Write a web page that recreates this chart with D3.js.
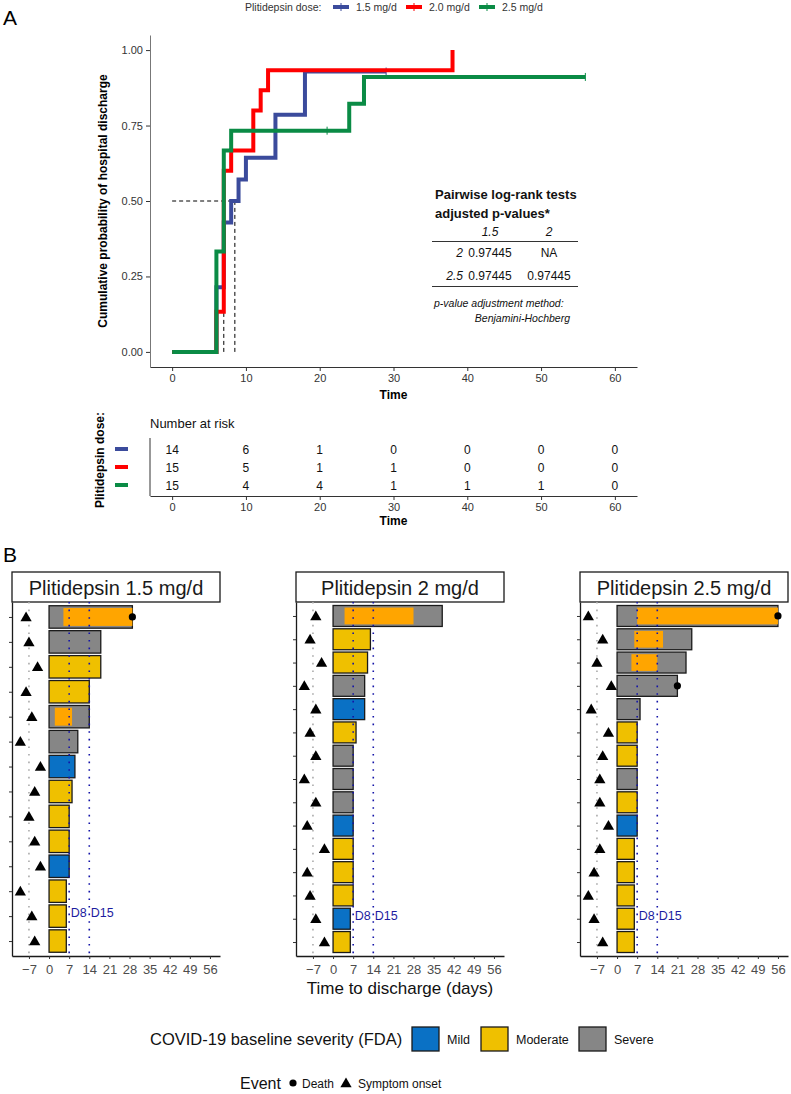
<!DOCTYPE html>
<html><head><meta charset="utf-8">
<script src="https://cdn.jsdelivr.net/npm/d3@7"></script>
<style>body{margin:0;background:#fff}svg{display:block;font-family:"Liberation Sans",Arial,sans-serif}</style>
</head><body><svg id="c" width="791" height="1094"></svg>
<script>
// ---------- DATA ----------
const doseLabels = ["1.5 mg/d", "2.0 mg/d", "2.5 mg/d"];
const doseColors = ["#3B4B9C", "#FF0000", "#0A8B45"];
// Kaplan-Meier cumulative discharge (step points)
const kmTime15 = [0, 6, 7, 8, 9, 10, 14, 18, 29];
const kmCum15  = [0, 0.214, 0.429, 0.5, 0.571, 0.643, 0.786, 0.929, 0.929];
const kmTime20 = [0, 6, 7, 8, 11, 12, 13, 38];
const kmCum20  = [0, 0.133, 0.6, 0.667, 0.8, 0.867, 0.933, 1.0];
const kmTime25 = [0, 6, 7, 8, 24, 26, 56];
const kmCum25  = [0, 0.333, 0.667, 0.733, 0.822, 0.911, 0.911];
const censorTime15 = [29];
const censorTime20 = [];
const censorTime25 = [21, 56];
const medianTimes = [7, 8.5];
const kmTicksX = [0, 10, 20, 30, 40, 50, 60];
const kmTicksY = [0, 0.25, 0.5, 0.75, 1.0];
// risk table
const riskTimes = [0, 10, 20, 30, 40, 50, 60];
const risk15 = [14, 6, 1, 0, 0, 0, 0];
const risk20 = [15, 5, 1, 1, 0, 0, 0];
const risk25 = [15, 4, 4, 1, 1, 1, 0];
// pairwise table
const pwCols = ["1.5", "2"];
const pwRows = ["2", "2.5"];
const pwVals = [["0.97445", "NA"], ["0.97445", "0.97445"]];
// Panel B swimmer data
const facetTitles = ["Plitidepsin 1.5 mg/d", "Plitidepsin 2 mg/d", "Plitidepsin 2.5 mg/d"];
const end15 = [29, 18, 18, 14, 14, 10, 9, 8, 7, 7, 7, 6, 6, 6];
const sev15 = ["Severe","Severe","Moderate","Moderate","Severe","Severe","Mild","Moderate","Moderate","Moderate","Mild","Moderate","Moderate","Moderate"];
const onset15 = [-8, -7, -4, -8, -6, -10, -3, -5, -7, -5, -3, -10, -6, -5];
const oStart15 = [5, null, null, null, 2, null, null, null, null, null, null, null, null, null];
const oEnd15   = [29, null, null, null, 8, null, null, null, null, null, null, null, null, null];
const death15  = [true, false, false, false, false, false, false, false, false, false, false, false, false, false];

const end20 = [38, 13, 12, 11, 11, 8, 7, 7, 7, 7, 7, 7, 7, 6, 6];
const sev20 = ["Severe","Moderate","Moderate","Severe","Mild","Moderate","Severe","Severe","Severe","Mild","Moderate","Moderate","Moderate","Mild","Moderate"];
const onset20 = [-6, -8, -4, -10, -6, -8, -6, -10, -6, -9, -3, -9, -8, -6, -3];
const oStart20 = [4, null, null, null, null, null, null, null, null, null, null, null, null, null, null];
const oEnd20   = [28, null, null, null, null, null, null, null, null, null, null, null, null, null, null];
const death20  = [false, false, false, false, false, false, false, false, false, false, false, false, false, false, false];

const end25 = [56, 26, 24, 21, 8, 7, 7, 7, 7, 7, 6, 6, 6, 6, 6];
const sev25 = ["Severe","Severe","Severe","Severe","Severe","Moderate","Moderate","Severe","Moderate","Mild","Moderate","Moderate","Moderate","Moderate","Moderate"];
const onset25 = [-10, -5, -7, -2, -9, -3, -5, -6, -6, -3, -6, -8, -10, -8, -5];
const oStart25 = [7, 6, 5, null, null, null, null, null, null, null, null, null, null, null, null];
const oEnd25   = [56, 16, 14, null, null, null, null, null, null, null, null, null, null, null, null];
const death25  = [true, false, false, true, false, false, false, false, false, false, false, false, false, false, false];

const sevLevels = ["Mild", "Moderate", "Severe"];
const sevColors = ["#0A71C5", "#EFC000", "#868686"];
const orangeColor = "#FFA500";
const swimTicks = [-7, 0, 7, 14, 21, 28, 35, 42, 49, 56];
const refLines = [7, 14];
const refLabels = ["D8", "D15"];
const eventLabels = ["Death", "Symptom onset"];

// ---------- DRAW ----------
const svg = d3.select("#c");
svg.append("rect").attr("width", 791).attr("height", 1094).attr("fill", "#fff");
const txtCol = "#333";

// Panel labels
svg.append("text").attr("x", 3).attr("y", 25).attr("font-size", 21).text("A");
svg.append("text").attr("x", 3).attr("y", 562).attr("font-size", 21).text("B");

// top legend
const lg = svg.append("g").attr("font-size", 10.5).attr("fill", txtCol);
lg.append("text").attr("x", 245).attr("y", 10.5).text("Plitidepsin dose:");
const lgX = [333, 406, 479];
doseLabels.forEach((d, i) => {
  lg.append("line").attr("x1", lgX[i]).attr("x2", lgX[i] + 16).attr("y1", 7).attr("y2", 7)
    .attr("stroke", doseColors[i]).attr("stroke-width", 4);
  lg.append("line").attr("x1", lgX[i] + 8).attr("x2", lgX[i] + 8).attr("y1", 3).attr("y2", 11)
    .attr("stroke", doseColors[i]).attr("stroke-width", 1);
  lg.append("text").attr("x", lgX[i] + 23).attr("y", 10.5).text(d);
});

// KM plot
const x = d3.scaleLinear().domain([-3, 63]).range([150, 637]);
const y = d3.scaleLinear().domain([-0.05, 1.05]).range([367, 35]);

const gx = svg.append("g").attr("transform", "translate(0,367)")
  .call(d3.axisBottom(x).tickValues(kmTicksX).tickSize(4).tickSizeOuter(0));
const gy = svg.append("g").attr("transform", "translate(150,0)")
  .call(d3.axisLeft(y).tickValues(kmTicksY).tickFormat(d3.format(".2f")).tickSize(4).tickSizeOuter(0));
[gx, gy].forEach(g => {
  g.selectAll("text").attr("font-size", 11).attr("fill", txtCol).attr("font-family", "Liberation Sans, Arial, sans-serif");
  g.selectAll("line").attr("stroke", "#333");
  g.select(".domain").attr("stroke", "#333");
});
gy.select(".domain").attr("stroke", "#777");
svg.append("text").attr("x", x(30)).attr("y", 399).attr("text-anchor", "middle")
  .attr("font-size", 12).attr("font-weight", "bold").text("Time");
svg.append("text").attr("transform", `translate(107,${y(0.5)}) rotate(-90)`).attr("text-anchor", "middle")
  .attr("font-size", 12).attr("font-weight", "bold").text("Cumulative probability of hospital discharge");

// median dashed lines
const dash = svg.append("g").attr("stroke", "#000").attr("stroke-width", 1).attr("stroke-dasharray", "4,3");
dash.append("line").attr("x1", x(0)).attr("x2", x(medianTimes[1])).attr("y1", y(0.5)).attr("y2", y(0.5));
medianTimes.forEach(t => dash.append("line").attr("x1", x(t)).attr("x2", x(t)).attr("y1", y(0)).attr("y2", y(0.5)));

const kmSets = [[kmTime15, kmCum15, censorTime15], [kmTime20, kmCum20, censorTime20], [kmTime25, kmCum25, censorTime25]];
const line = d3.line().x(d => x(d[0])).y(d => y(d[1])).curve(d3.curveStepAfter);
kmSets.forEach(([t, c, cen], i) => {
  const pts = t.map((v, j) => [v, c[j]]);
  svg.append("path").attr("d", line(pts)).attr("fill", "none").attr("stroke", doseColors[i]).attr("stroke-width", 4);
  cen.forEach(ct => {
    let idx = d3.bisectRight(t, ct) - 1;
    const cy = y(c[idx]);
    svg.append("line").attr("x1", x(ct)).attr("x2", x(ct)).attr("y1", cy - 4).attr("y2", cy + 4)
      .attr("stroke", doseColors[i]).attr("stroke-width", 1);
  });
});

// pairwise table
const pt = svg.append("g").attr("fill", "#111");
pt.append("text").attr("x", 435).attr("y", 199).attr("font-size", 13).attr("font-weight", "bold").text("Pairwise log-rank tests");
pt.append("text").attr("x", 435).attr("y", 218).attr("font-size", 13).attr("font-weight", "bold").text("adjusted p-values*");
const colX = [490, 549];
pwCols.forEach((c, i) => pt.append("text").attr("x", colX[i]).attr("y", 236).attr("text-anchor", "middle")
  .attr("font-size", 12).attr("font-style", "italic").text(c));
pt.append("line").attr("x1", 432).attr("x2", 578).attr("y1", 241.5).attr("y2", 241.5).attr("stroke", "#333");
const rowY = [257, 280];
pwRows.forEach((r, i) => {
  pt.append("text").attr("x", 463).attr("y", rowY[i]).attr("text-anchor", "end").attr("font-size", 12).attr("font-style", "italic").text(r);
  pwVals[i].forEach((v, j) => pt.append("text").attr("x", colX[j]).attr("y", rowY[i])
    .attr("text-anchor", "middle").attr("font-size", 12).text(v));
});
pt.append("line").attr("x1", 432).attr("x2", 578).attr("y1", 286.5).attr("y2", 286.5).attr("stroke", "#333");
pt.append("text").attr("x", 434).attr("y", 307).attr("font-size", 10.5).attr("font-style", "italic").text("p-value adjustment method:");
pt.append("text").attr("x", 570).attr("y", 322).attr("text-anchor", "end").attr("font-size", 10.5).attr("font-style", "italic").text("Benjamini-Hochberg");

// risk table
const riskSets = [risk15, risk20, risk25];
const ry = d3.scalePoint().domain([0, 1, 2]).range([449, 485]);
svg.append("text").attr("x", 150).attr("y", 428).attr("font-size", 13).attr("fill", "#111").text("Number at risk");
svg.append("line").attr("x1", 150).attr("x2", 150).attr("y1", 438).attr("y2", 496).attr("stroke", "#333");
const grx = svg.append("g").attr("transform", "translate(0,496)")
  .call(d3.axisBottom(x).tickValues(riskTimes).tickSize(4).tickSizeOuter(0));
grx.selectAll("text").attr("font-size", 11).attr("fill", txtCol);
grx.selectAll("line").attr("stroke", "#333");
grx.select(".domain").attr("stroke", "#333");
svg.append("text").attr("x", x(30)).attr("y", 525).attr("text-anchor", "middle")
  .attr("font-size", 12).attr("font-weight", "bold").text("Time");
riskSets.forEach((rs, i) => {
  rs.forEach((v, j) => svg.append("text").attr("x", x(riskTimes[j])).attr("y", ry(i) + 4.5)
    .attr("text-anchor", "middle").attr("font-size", 12).attr("fill", "#111").text(v));
  svg.append("rect").attr("x", 115).attr("y", ry(i) - 2).attr("width", 13).attr("height", 4).attr("fill", doseColors[i]);
});
svg.append("text").attr("transform", "translate(104,460) rotate(-90)").attr("text-anchor", "middle")
  .attr("font-size", 12).attr("font-weight", "bold").text("Plitidepsin dose:");

// ---------- Panel B ----------
const facetSets = [
  [end15, sev15, onset15, oStart15, oEnd15, death15],
  [end20, sev20, onset20, oStart20, oEnd20, death20],
  [end25, sev25, onset25, oStart25, oEnd25, death25]
];
const facetLeft = [12, 296, 580];
const fW = 208, pTop = 602, pBottom = 956;
const sevColor = d3.scaleOrdinal().domain(sevLevels).range(sevColors);
const tri = d3.symbol().type(d3.symbolTriangle).size(55);

facetSets.forEach(([ends, sev, onset, os, oe, dth], f) => {
  const L = facetLeft[f];
  const xb = d3.scaleLinear().domain([-12.9, 59.5]).range([L, L + fW]);
  const yb = d3.scalePoint().domain(d3.range(ends.length)).range([pTop, pBottom]).padding(0.6);
  const bh = yb.step() * 0.9, oh = yb.step() * 0.72;
  const g = svg.append("g");
  // strip
  g.append("rect").attr("x", L).attr("y", 572).attr("width", fW).attr("height", 30)
    .attr("fill", "#fff").attr("stroke", "#1a1a1a").attr("stroke-width", 1.3);
  g.append("text").attr("x", L + fW / 2).attr("y", 594.5).attr("text-anchor", "middle")
    .attr("font-size", 20).attr("fill", "#1a1a1a").text(facetTitles[f]);
  // bars
  ends.forEach((e, i) => {
    g.append("rect").attr("x", xb(0)).attr("y", yb(i) - bh / 2).attr("width", xb(e) - xb(0)).attr("height", bh)
      .attr("fill", sevColor(sev[i])).attr("stroke", "#1a1a1a").attr("stroke-width", 1.3);
    if (os[i] !== null) {
      g.append("rect").attr("x", xb(os[i])).attr("y", yb(i) - oh / 2).attr("width", xb(oe[i]) - xb(os[i])).attr("height", oh)
        .attr("fill", orangeColor);
    }
  });
  // reference lines
  g.append("line").attr("x1", xb(-7)).attr("x2", xb(-7)).attr("y1", pTop).attr("y2", pBottom)
    .attr("stroke", "#aaa").attr("stroke-width", 1.6).attr("stroke-dasharray", "1.6,6");
  refLines.forEach((r, k) => {
    g.append("line").attr("x1", xb(r)).attr("x2", xb(r)).attr("y1", pTop).attr("y2", pBottom)
      .attr("stroke", "#1414A8").attr("stroke-width", 1.6).attr("stroke-dasharray", "1.6,6");
    g.append("text").attr("x", xb(r) + 1.5).attr("y", yb(ends.length - 2) - 3).attr("dy", "0.35em")
      .attr("font-size", 12.5).attr("fill", "#1C1CA0").text(refLabels[k]);
  });
  // onset triangles
  onset.forEach((o, i) => g.append("path").attr("d", tri()).attr("transform", `translate(${xb(o)},${yb(i) + 1})`).attr("fill", "#000"));
  // deaths
  dth.forEach((d, i) => { if (d) g.append("circle").attr("cx", xb(ends[i])).attr("cy", yb(i)).attr("r", 3.6).attr("fill", "#000"); });
  // axes
  const ax = g.append("g").attr("transform", `translate(0,${pBottom})`)
    .call(d3.axisBottom(xb).tickValues(swimTicks).tickSize(3).tickSizeOuter(0));
  ax.selectAll("text").attr("font-size", 13).attr("fill", "#4D4D4D").attr("dy", "0.95em");
  ax.selectAll("line").attr("stroke", "#333");
  ax.select(".domain").attr("stroke", "#1a1a1a").attr("stroke-width", 1.3);
  const ay = g.append("g").attr("transform", `translate(${L},0)`)
    .call(d3.axisLeft(yb).tickSize(3).tickSizeOuter(0).tickFormat(""));
  ay.selectAll("line").attr("stroke", "#333");
  ay.select(".domain").attr("stroke", "#1a1a1a").attr("stroke-width", 1.3);
});
svg.append("text").attr("x", 400).attr("y", 994).attr("text-anchor", "middle").attr("font-size", 17).attr("fill", "#111")
  .text("Time to discharge (days)");

// severity legend
svg.append("text").attr("x", 150).attr("y", 1045).attr("font-size", 16.5).attr("fill", "#111").text("COVID-19 baseline severity (FDA)");
const sevKeyX = [412, 481, 579];
sevLevels.forEach((s, i) => {
  svg.append("rect").attr("x", sevKeyX[i]).attr("y", 1027).attr("width", 27).attr("height", 24)
    .attr("fill", sevColors[i]).attr("stroke", "#1a1a1a").attr("stroke-width", 1.3);
  svg.append("text").attr("x", sevKeyX[i] + 35).attr("y", 1043.5).attr("font-size", 12.5).attr("fill", "#111").text(s);
});
// event legend
svg.append("text").attr("x", 240).attr("y", 1089).attr("font-size", 16).attr("fill", "#111").text("Event");
svg.append("circle").attr("cx", 293).attr("cy", 1083).attr("r", 3.6).attr("fill", "#000");
svg.append("text").attr("x", 302).attr("y", 1087.5).attr("font-size", 12).attr("fill", "#111").text(eventLabels[0]);
svg.append("path").attr("d", tri()).attr("transform", "translate(346,1084)").attr("fill", "#000");
svg.append("text").attr("x", 358).attr("y", 1087.5).attr("font-size", 12).attr("fill", "#111").text(eventLabels[1]);
</script></body></html>
